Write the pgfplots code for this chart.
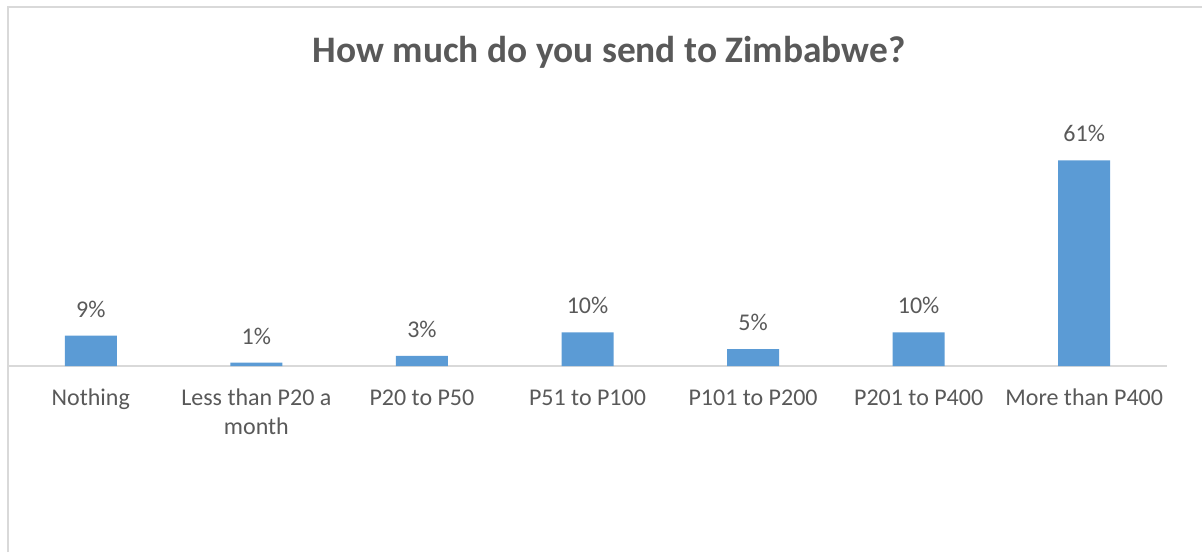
\documentclass[border=0pt]{standalone}
\usepackage{fontspec}
\setmainfont{Carlito}
\usepackage{pgfplots}
\pgfplotsset{compat=1.18}
\definecolor{barblue}{HTML}{5B9BD5}
\definecolor{txtgray}{HTML}{595959}
\definecolor{linegray}{HTML}{D9D9D9}

\begin{document}
\begin{tikzpicture}
  % canvas: 1px = 0.5pt
  \useasboundingbox (0,0) rectangle (601pt,276pt);
  \draw[linegray, line width=1pt] (4pt,0) -- (4pt,272.5pt) -- (601pt,272.5pt);
  \node[anchor=base, text=txtgray, font=\fontsize{18.7}{22}\selectfont\bfseries]
    at (304.5pt,244.5pt) {How much do you send to Zimbabwe?};
  \begin{axis}[
      at={(4pt,93pt)}, anchor=south west,
      scale only axis,
      width=579.5pt, height=117.95pt,
      xmin=-0.5, xmax=6.5,
      ymin=0, ymax=70,
      axis x line*=bottom,
      axis y line=none,
      x axis line style={linegray, line width=0.8pt},
      major tick length=0pt,
      xtick=data,
      xticklabels={Nothing, {Less than P20 a\\month}, P20 to P50, P51 to P100,
                   P101 to P200, P201 to P400, More than P400},
      xticklabel style={anchor=north, inner sep=0pt, yshift=-11pt, align=center,
                        text=txtgray, font=\fontsize{12}{14.5}\selectfont,
                        execute at begin node={\vphantom{Nh}}},
      ybar, bar width=26pt,
      nodes near coords={\pgfmathprintnumber{\pgfplotspointmeta}\%},
      nodes near coords style={anchor=south, inner sep=0pt, yshift=9pt,
                               text=txtgray, font=\fontsize{12}{14}\selectfont,
                               /pgf/number format/assume math mode=true},
      clip=false,
    ]
    \addplot[fill=barblue, draw=none] coordinates {
      (0,9) (1,1) (2,3) (3,10) (4,5) (5,10) (6,61)
    };
  \end{axis}
\end{tikzpicture}
\end{document}
